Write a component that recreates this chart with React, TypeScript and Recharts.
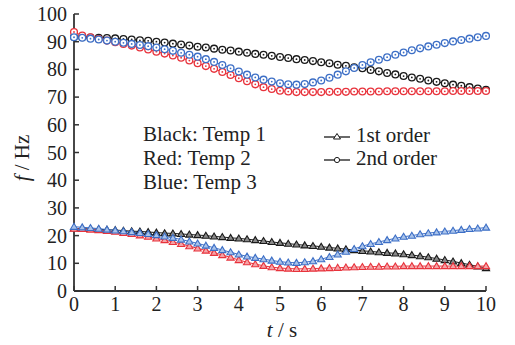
import { LineChart, Line, XAxis, YAxis } from 'recharts';

const times = [
  0, 0.2, 0.4, 0.6, 0.8, 1, 1.2, 1.4, 1.6, 1.8, 2, 2.2, 2.4, 2.6, 2.8, 3, 3.2, 3.4, 3.6, 3.8,
  4, 4.2, 4.4, 4.6, 4.8, 5, 5.2, 5.4, 5.6, 5.8, 6, 6.2, 6.4, 6.6, 6.8, 7, 7.2, 7.4, 7.6, 7.8,
  8, 8.2, 8.4, 8.6, 8.8, 9, 9.2, 9.4, 9.6, 9.8, 10,
];

// 2nd order (circles)
const black2 = [
  91.7, 91.6, 91.5, 91.4, 91.3, 91.2, 91.0, 90.8, 90.5, 90.3, 90.0, 89.7, 89.3, 89.0, 88.6, 88.2, 87.9, 87.5, 87.1, 86.8,
  86.4, 86.0, 85.6, 85.3, 84.9, 84.5, 84.1, 83.7, 83.4, 83.0, 82.6, 82.2, 81.7, 81.3, 80.8, 80.4, 79.8, 79.3, 78.7, 78.2,
  77.6, 77.1, 76.6, 76.0, 75.5, 75.0, 74.5, 74.1, 73.6, 73.1, 72.6,
];
const red2 = [
  93.5, 92.2, 91.6, 91.0, 90.4, 89.8, 89.2, 88.6, 87.9, 87.2, 86.4, 85.7, 85.0, 84.2, 83.2, 82.2, 81.2, 80.2, 79.1, 78.0,
  76.8, 75.7, 74.6, 73.6, 72.9, 72.3, 72.0, 71.8, 71.8, 71.8, 71.8, 71.9, 71.9, 71.9, 72.0, 72.0, 72.0, 72.0, 72.1, 72.1,
  72.1, 72.1, 72.1, 72.1, 72.1, 72.1, 72.2, 72.2, 72.2, 72.2, 72.2,
];
const blue2 = [
  91.6, 91.4, 91.1, 90.8, 90.4, 90.0, 89.6, 89.2, 88.8, 88.4, 87.9, 87.3, 86.7, 86.0, 85.3, 84.6, 83.7, 82.7, 81.6, 80.4,
  79.2, 78.1, 77.1, 76.3, 75.6, 75.0, 74.6, 74.5, 74.7, 75.3, 76.0, 77.0, 78.1, 79.3, 80.5, 81.6, 82.6, 83.5, 84.4, 85.3,
  86.1, 86.9, 87.6, 88.3, 88.9, 89.5, 90.1, 90.6, 91.1, 91.6, 92.1,
];

// 1st order (triangles)
const black1 = [
  22.6, 22.5, 22.4, 22.3, 22.1, 22.0, 21.8, 21.6, 21.5, 21.3, 21.1, 20.9, 20.8, 20.6, 20.4, 20.2, 20.0, 19.7, 19.5, 19.2,
  19.0, 18.7, 18.4, 18.1, 17.7, 17.4, 17.1, 16.8, 16.5, 16.3, 16.0, 15.7, 15.4, 15.1, 14.8, 14.5, 14.3, 14.0, 13.8, 13.6,
  13.3, 13.0, 12.6, 12.2, 11.7, 11.2, 10.7, 10.1, 9.5, 8.9, 8.3,
];
const red1 = [
  22.5, 22.4, 22.2, 22.0, 21.7, 21.4, 21.0, 20.6, 20.1, 19.6, 19.0, 18.4, 17.7, 17.0, 16.2, 15.4, 14.6, 13.8, 13.0, 12.1,
  11.2, 10.4, 9.7, 9.1, 8.6, 8.3, 8.1, 8.0, 8.0, 8.1, 8.2, 8.3, 8.4, 8.5, 8.6, 8.7, 8.8, 8.8, 8.9, 8.9,
  9.0, 9.0, 9.0, 9.0, 9.0, 9.0, 9.0, 9.0, 9.0, 9.0, 9.0,
];
const blue1 = [
  23.2, 23.0, 22.8, 22.5, 22.2, 21.9, 21.6, 21.3, 21.0, 20.6, 20.2, 19.7, 19.2, 18.6, 17.9, 17.2, 16.4, 15.6, 14.8, 14.0,
  13.2, 12.5, 12.0, 11.5, 11.0, 10.6, 10.3, 10.2, 10.4, 10.8, 11.5, 12.3, 13.2, 14.2, 15.2, 16.2, 17.0, 17.7, 18.4, 19.0,
  19.6, 20.0, 20.5, 20.9, 21.2, 21.5, 21.8, 22.1, 22.4, 22.6, 22.9,
];

const xTicks = [0, 1, 2, 3, 4, 5, 6, 7, 8, 9, 10];
const yTicks = [0, 10, 20, 30, 40, 50, 60, 70, 80, 90, 100];
const legendTemps = ['Black: Temp 1', 'Red: Temp 2', 'Blue: Temp 3'];
const legendOrders = ['1st order', '2nd order'];

const data = times.map((t, i) => ({
  t,
  black1: black1[i],
  red1: red1[i],
  blue1: blue1[i],
  black2: black2[i],
  red2: red2[i],
  blue2: blue2[i],
}));

const BLACK = '#1a1a1a';
const RED = '#e8333c';
const BLUE = '#3d6fc6';
const FONT = '"Liberation Serif", "Times New Roman", Tinos, "Nimbus Roman", "DejaVu Serif", FreeSerif, serif';
const TICK_GAP = 7;

const tint: Record<string, string> = {
  [BLACK]: '#8a8a8a',
  [RED]: '#f4a3a7',
  [BLUE]: '#a9c3ea',
};

const circleDot = (color: string) => (p: any) => {
  if (p.cx == null || p.cy == null) return <g key={p.key} />;
  return (
    <g key={p.key}>
      <circle cx={p.cx} cy={p.cy} r={3.4} fill="#fff" stroke={color} strokeWidth={1.3} />
      <circle cx={p.cx} cy={p.cy} r={0.9} fill={color} />
    </g>
  );
};

const triangleDot = (color: string) => (p: any) => {
  if (p.cx == null || p.cy == null) return <g key={p.key} />;
  const { cx, cy } = p;
  return (
    <polygon
      key={p.key}
      points={`${cx},${cy - 3.4} ${cx - 3.6},${cy + 2.6} ${cx + 3.6},${cy + 2.6}`}
      fill={tint[color]}
      stroke={color}
      strokeWidth={1.1}
    />
  );
};

const YTick = (p: any) => (
  <g>
    <line x1={p.x + TICK_GAP} y1={p.y} x2={p.x + TICK_GAP + 5} y2={p.y} stroke="#333" strokeWidth={1.5} />
    <text x={p.x} y={p.y} dy="0.35em" textAnchor="end" fontSize={20} fontFamily={FONT} fill="#222">
      {p.payload.value}
    </text>
  </g>
);

const XTick = (p: any) => (
  <g>
    <line x1={p.x} y1={p.y - 6} x2={p.x} y2={p.y - 11} stroke="#333" strokeWidth={1.5} />
    <text x={p.x} y={p.y} dy="0.71em" textAnchor="middle" fontSize={20} fontFamily={FONT} fill="#222">
      {p.payload.value}
    </text>
  </g>
);

const series = [
  { key: 'black2', color: BLACK, dot: circleDot },
  { key: 'red2', color: RED, dot: circleDot },
  { key: 'blue2', color: BLUE, dot: circleDot },
  { key: 'black1', color: BLACK, dot: triangleDot },
  { key: 'red1', color: RED, dot: triangleDot },
  { key: 'blue1', color: BLUE, dot: triangleDot },
];

export default function App() {
  return (
    <div style={{ position: 'absolute', left: 0, top: 0, width: 515, height: 345, background: '#fff' }}>
      <LineChart width={515} height={345} data={data} margin={{ top: 14, right: 29, left: 0, bottom: 0 }}>
        <XAxis
          dataKey="t"
          type="number"
          domain={[0, 10]}
          ticks={xTicks}
          height={54}
          tickSize={0}
          tickMargin={6}
          tick={<XTick />}
          stroke="#333"
          strokeWidth={1.8}
          label={{
            content: () => (
              <text x={282} y={337} textAnchor="middle" fontSize={21} fontFamily={FONT} fill="#222">
                <tspan fontStyle="italic">t</tspan> / s
              </text>
            ),
          }}
        />
        <YAxis
          type="number"
          domain={[0, 100]}
          ticks={yTicks}
          width={74}
          tickSize={0}
          tickMargin={TICK_GAP}
          tick={<YTick />}
          stroke="#333"
          strokeWidth={1.8}
          label={{
            content: () => (
              <text
                x={29}
                y={158}
                textAnchor="middle"
                fontSize={21}
                fontFamily={FONT}
                fill="#222"
                transform="rotate(-90, 29, 158)"
              >
                <tspan fontStyle="italic">f</tspan> / Hz
              </text>
            ),
          }}
        />
        {series.map((s) => (
          <Line
            key={s.key}
            dataKey={s.key}
            stroke={s.color}
            strokeWidth={1}
            dot={s.dot(s.color)}
            activeDot={false}
            isAnimationActive={false}
          />
        ))}
      </LineChart>
      <div
        style={{
          position: 'absolute',
          left: 143,
          top: 122,
          fontFamily: FONT,
          fontSize: 21,
          lineHeight: '24px',
          color: '#222',
        }}
      >
        {legendTemps.map((s) => (
          <div key={s}>{s}</div>
        ))}
      </div>
      <div
        style={{
          position: 'absolute',
          left: 323,
          top: 124,
          fontFamily: FONT,
          fontSize: 21,
          lineHeight: '23px',
          color: '#222',
        }}
      >
        {legendOrders.map((s, i) => (
          <div key={s} style={{ display: 'flex', alignItems: 'center' }}>
            <svg width={28} height={14} style={{ marginRight: 5 }}>
              <line x1={1} y1={8} x2={27} y2={8} stroke={BLACK} strokeWidth={1.3} />
              {i === 0 ? (
                <polygon points="14,4.5 10.5,10 17.5,10" fill="#fff" stroke={BLACK} strokeWidth={1} />
              ) : (
                <circle cx={14} cy={8} r={2.6} fill="#fff" stroke={BLACK} strokeWidth={1} />
              )}
            </svg>
            <span>{s}</span>
          </div>
        ))}
      </div>
    </div>
  );
}
